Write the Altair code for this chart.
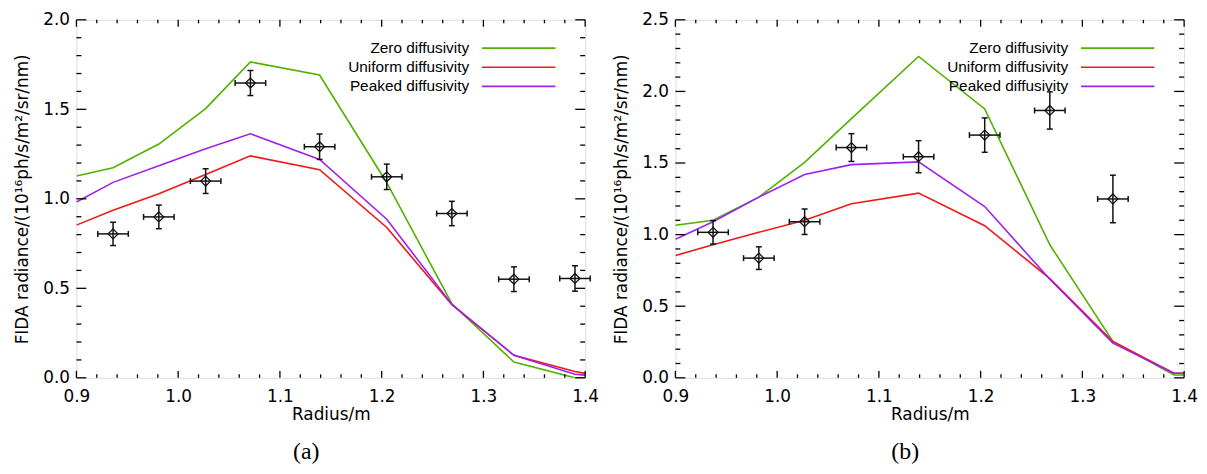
import altair as alt
import pandas as pd

# ---------------- data ----------------
series_names = ["Zero diffusivity", "Uniform diffusivity", "Peaked diffusivity"]
series_colors = ["#52b000", "#f01818", "#a020f0"]

# Panel (a)
a_model_r = [0.9, 0.936, 0.981, 1.027, 1.071, 1.139, 1.205, 1.269, 1.330, 1.390, 1.4]
a_zero = [1.128, 1.174, 1.306, 1.504, 1.765, 1.692, 1.090, 0.414, 0.088, 0.000, 0.000]
a_uniform = [0.853, 0.936, 1.028, 1.136, 1.240, 1.163, 0.840, 0.408, 0.126, 0.035, 0.025]
a_peaked = [0.982, 1.092, 1.185, 1.280, 1.363, 1.220, 0.886, 0.410, 0.126, 0.020, 0.015]
a_data_r = [0.936, 0.981, 1.027, 1.071, 1.139, 1.205, 1.269, 1.330, 1.390]
a_data_y = [0.804, 0.899, 1.099, 1.647, 1.291, 1.123, 0.918, 0.551, 0.555]
a_data_yerr = [0.065, 0.066, 0.069, 0.070, 0.071, 0.071, 0.068, 0.069, 0.071]
a_data_rerr = [0.015, 0.015, 0.015, 0.015, 0.015, 0.015, 0.015, 0.015, 0.015]

# Panel (b)
b_model_r = [0.9, 0.937, 0.982, 1.027, 1.073, 1.139, 1.204, 1.268, 1.330, 1.390, 1.4]
b_zero = [1.066, 1.100, 1.262, 1.505, 1.810, 2.244, 1.878, 0.929, 0.254, 0.020, 0.020]
b_uniform = [0.854, 0.929, 1.016, 1.100, 1.216, 1.290, 1.062, 0.693, 0.254, 0.032, 0.032]
b_peaked = [0.968, 1.090, 1.262, 1.420, 1.489, 1.508, 1.196, 0.688, 0.242, 0.032, 0.032]
b_data_r = [0.937, 0.982, 1.027, 1.073, 1.139, 1.204, 1.268, 1.330]
b_data_y = [1.016, 0.836, 1.090, 1.608, 1.544, 1.695, 1.867, 1.249]
b_data_yerr = [0.082, 0.079, 0.089, 0.097, 0.112, 0.120, 0.130, 0.166]
b_data_rerr = [0.015, 0.015, 0.015, 0.015, 0.015, 0.015, 0.015, 0.015]

# ticks
x_major = [0.9, 1.0, 1.1, 1.2, 1.3, 1.4]
x_minor = [0.92, 0.94, 0.96, 0.98, 1.02, 1.04, 1.06, 1.08, 1.12, 1.14, 1.16, 1.18,
           1.22, 1.24, 1.26, 1.28, 1.32, 1.34, 1.36, 1.38]
a_y_major = [0.0, 0.5, 1.0, 1.5, 2.0]
a_y_minor = [0.1, 0.2, 0.3, 0.4, 0.6, 0.7, 0.8, 0.9, 1.1, 1.2, 1.3, 1.4, 1.6, 1.7, 1.8, 1.9]
b_y_major = [0.0, 0.5, 1.0, 1.5, 2.0, 2.5]
b_y_minor = [0.1, 0.2, 0.3, 0.4, 0.6, 0.7, 0.8, 0.9, 1.1, 1.2, 1.3, 1.4, 1.6, 1.7, 1.8, 1.9,
             2.1, 2.2, 2.3, 2.4]

x_title = "Radius/m"
y_title = "FIDA radiance/(10\u00b9\u2076ph/s/m\u00b2/sr/nm)"

# ---------------- layout / style ----------------
W, H = 513, 361
AX_FONT = "DejaVu Sans"
AX_SIZE = 17
LEG_FONT = "Liberation Sans"
LEG_SIZE = 15.5
LEG_Y0, LEG_DY = 28.5, 19.3
X_MAJ, X_MIN = 7, 3.5
Y_MAJ, Y_MIN = 10, 5
TICK_W = 1.3


def tick_layer(values, side, size, xs, ys):
    df = pd.DataFrame({"t": values})
    m = alt.Chart(df).mark_rule(color="black", strokeWidth=TICK_W)
    if side == "bottom":
        return m.encode(x=alt.X("t:Q", scale=xs, axis=None), y=alt.value(H), y2=alt.value(H - size))
    if side == "top":
        return m.encode(x=alt.X("t:Q", scale=xs, axis=None), y=alt.value(0), y2=alt.value(size))
    if side == "left":
        return m.encode(y=alt.Y("t:Q", scale=ys, axis=None), x=alt.value(0), x2=alt.value(size))
    return m.encode(y=alt.Y("t:Q", scale=ys, axis=None), x=alt.value(W), x2=alt.value(W - size))


def panel(model_r, zero, uniform, peaked, data_r, data_y, data_yerr, data_rerr,
          ymax, y_major, y_minor, caption):
    xs = alt.Scale(domain=[0.9, 1.4], nice=False, zero=False, padding=0)
    ys = alt.Scale(domain=[0, ymax], nice=False, zero=False, padding=0)

    rows = []
    for name, vals in zip(series_names, [zero, uniform, peaked]):
        for r, v in zip(model_r, vals):
            rows.append({"r": r, "v": v, "series": name})
    lines_df = pd.DataFrame(rows)

    pts = pd.DataFrame({"r": data_r, "y": data_y, "yerr": data_yerr, "rerr": data_rerr})
    pts["ylo"] = pts["y"] - pts["yerr"]
    pts["yhi"] = pts["y"] + pts["yerr"]
    pts["rlo"] = pts["r"] - pts["rerr"]
    pts["rhi"] = pts["r"] + pts["rerr"]

    main_x_axis = alt.Axis(values=x_major, format=".1f", ticks=False, tickSize=0,
                           domain=False, grid=False, labelFont=AX_FONT, labelFlush=False,
                           labelFontSize=AX_SIZE, labelColor="black", labelPadding=11,
                           title=x_title, titleFont=AX_FONT, titleFontSize=AX_SIZE,
                           titleFontWeight="normal", titleColor="black", titlePadding=2)
    main_y_axis = alt.Axis(values=y_major, format=".1f", ticks=False, tickSize=0,
                           domain=False, grid=False, labelFont=AX_FONT, labelFlush=False,
                           labelFontSize=AX_SIZE, labelColor="black", labelPadding=7,
                           title=y_title, titleFont=AX_FONT, titleFontSize=AX_SIZE,
                           titleFontWeight="normal", titleColor="black", titlePadding=11)

    lines = alt.Chart(lines_df).mark_line(strokeWidth=1.6, clip=True).encode(
        x=alt.X("r:Q", scale=xs, axis=main_x_axis),
        y=alt.Y("v:Q", scale=ys, axis=main_y_axis),
        color=alt.Color("series:N", scale=alt.Scale(domain=series_names, range=series_colors),
                        legend=None),
        order=alt.Order("r:Q"),
    )

    ticks = [
        tick_layer(x_major, "bottom", X_MAJ, xs, ys),
        tick_layer(x_major, "top", X_MAJ, xs, ys),
        tick_layer(x_minor, "bottom", X_MIN, xs, ys),
        tick_layer(x_minor, "top", X_MIN, xs, ys),
        tick_layer(y_major, "left", Y_MAJ, xs, ys),
        tick_layer(y_major, "right", Y_MAJ, xs, ys),
        tick_layer(y_minor, "left", Y_MIN, xs, ys),
        tick_layer(y_minor, "right", Y_MIN, xs, ys),
    ]

    base = alt.Chart(pts)
    ecol = "#111111"
    vbar = base.mark_rule(color=ecol, strokeWidth=1.5).encode(
        x=alt.X("r:Q", scale=xs, axis=None), y=alt.Y("ylo:Q", scale=ys, axis=None), y2="yhi:Q")
    hbar = base.mark_rule(color=ecol, strokeWidth=1.5).encode(
        x=alt.X("rlo:Q", scale=xs, axis=None), x2="rhi:Q", y=alt.Y("y:Q", scale=ys, axis=None))
    cap_lo = base.mark_tick(orient="horizontal", size=6, thickness=1.5, color=ecol, opacity=1).encode(
        x=alt.X("r:Q", scale=xs, axis=None), y=alt.Y("ylo:Q", scale=ys, axis=None))
    cap_hi = base.mark_tick(orient="horizontal", size=6, thickness=1.5, color=ecol, opacity=1).encode(
        x=alt.X("r:Q", scale=xs, axis=None), y=alt.Y("yhi:Q", scale=ys, axis=None))
    cap_l = base.mark_tick(orient="vertical", size=6, thickness=1.5, color=ecol, opacity=1).encode(
        x=alt.X("rlo:Q", scale=xs, axis=None), y=alt.Y("y:Q", scale=ys, axis=None))
    cap_r = base.mark_tick(orient="vertical", size=6, thickness=1.5, color=ecol, opacity=1).encode(
        x=alt.X("rhi:Q", scale=xs, axis=None), y=alt.Y("y:Q", scale=ys, axis=None))
    diam = base.mark_point(shape="diamond", size=100, filled=False, strokeWidth=1.3,
                           color=ecol, opacity=1).encode(
        x=alt.X("r:Q", scale=xs, axis=None), y=alt.Y("y:Q", scale=ys, axis=None))

    legend_df = pd.DataFrame({"series": series_names})
    leg_layers = []
    for i, (name, col) in enumerate(zip(series_names, series_colors)):
        ypos = LEG_Y0 + LEG_DY * i
        leg_layers.append(
            alt.Chart(legend_df).transform_filter(alt.datum.series == name).mark_text(
                align="right", baseline="middle", font=LEG_FONT, fontSize=LEG_SIZE,
                color="black").encode(text="series:N", x=alt.value(396), y=alt.value(ypos))
        )
        leg_layers.append(
            alt.Chart(legend_df).transform_filter(alt.datum.series == name).mark_rule(
                color=col, strokeWidth=1.6).encode(
                x=alt.value(409), x2=alt.value(483), y=alt.value(ypos))
        )

    layered = alt.layer(
        lines, *ticks, vbar, hbar, cap_lo, cap_hi, cap_l, cap_r, diam, *leg_layers
    ).resolve_axis(x="independent", y="independent").properties(
        width=W, height=H,
        title=alt.TitleParams(caption, orient="bottom", frame="bounds", anchor="middle",
                              font="Liberation Serif", fontSize=24, fontWeight="normal",
                              color="black", offset=18),
    )
    return layered


pa = panel(a_model_r, a_zero, a_uniform, a_peaked, a_data_r, a_data_y, a_data_yerr,
           a_data_rerr, 2.0, a_y_major, a_y_minor, "(a)")
pb = panel(b_model_r, b_zero, b_uniform, b_peaked, b_data_r, b_data_y, b_data_yerr,
           b_data_rerr, 2.5, b_y_major, b_y_minor, "(b)")

chart = alt.hconcat(pa, pb, spacing=12).properties(
    padding={"left": 5, "top": 0, "right": 0, "bottom": 0}
).configure_view(stroke="black", strokeWidth=1.3).configure(font=AX_FONT, background="white")

chart.save("out.html", embed_options={"renderer": "svg", "actions": False})
